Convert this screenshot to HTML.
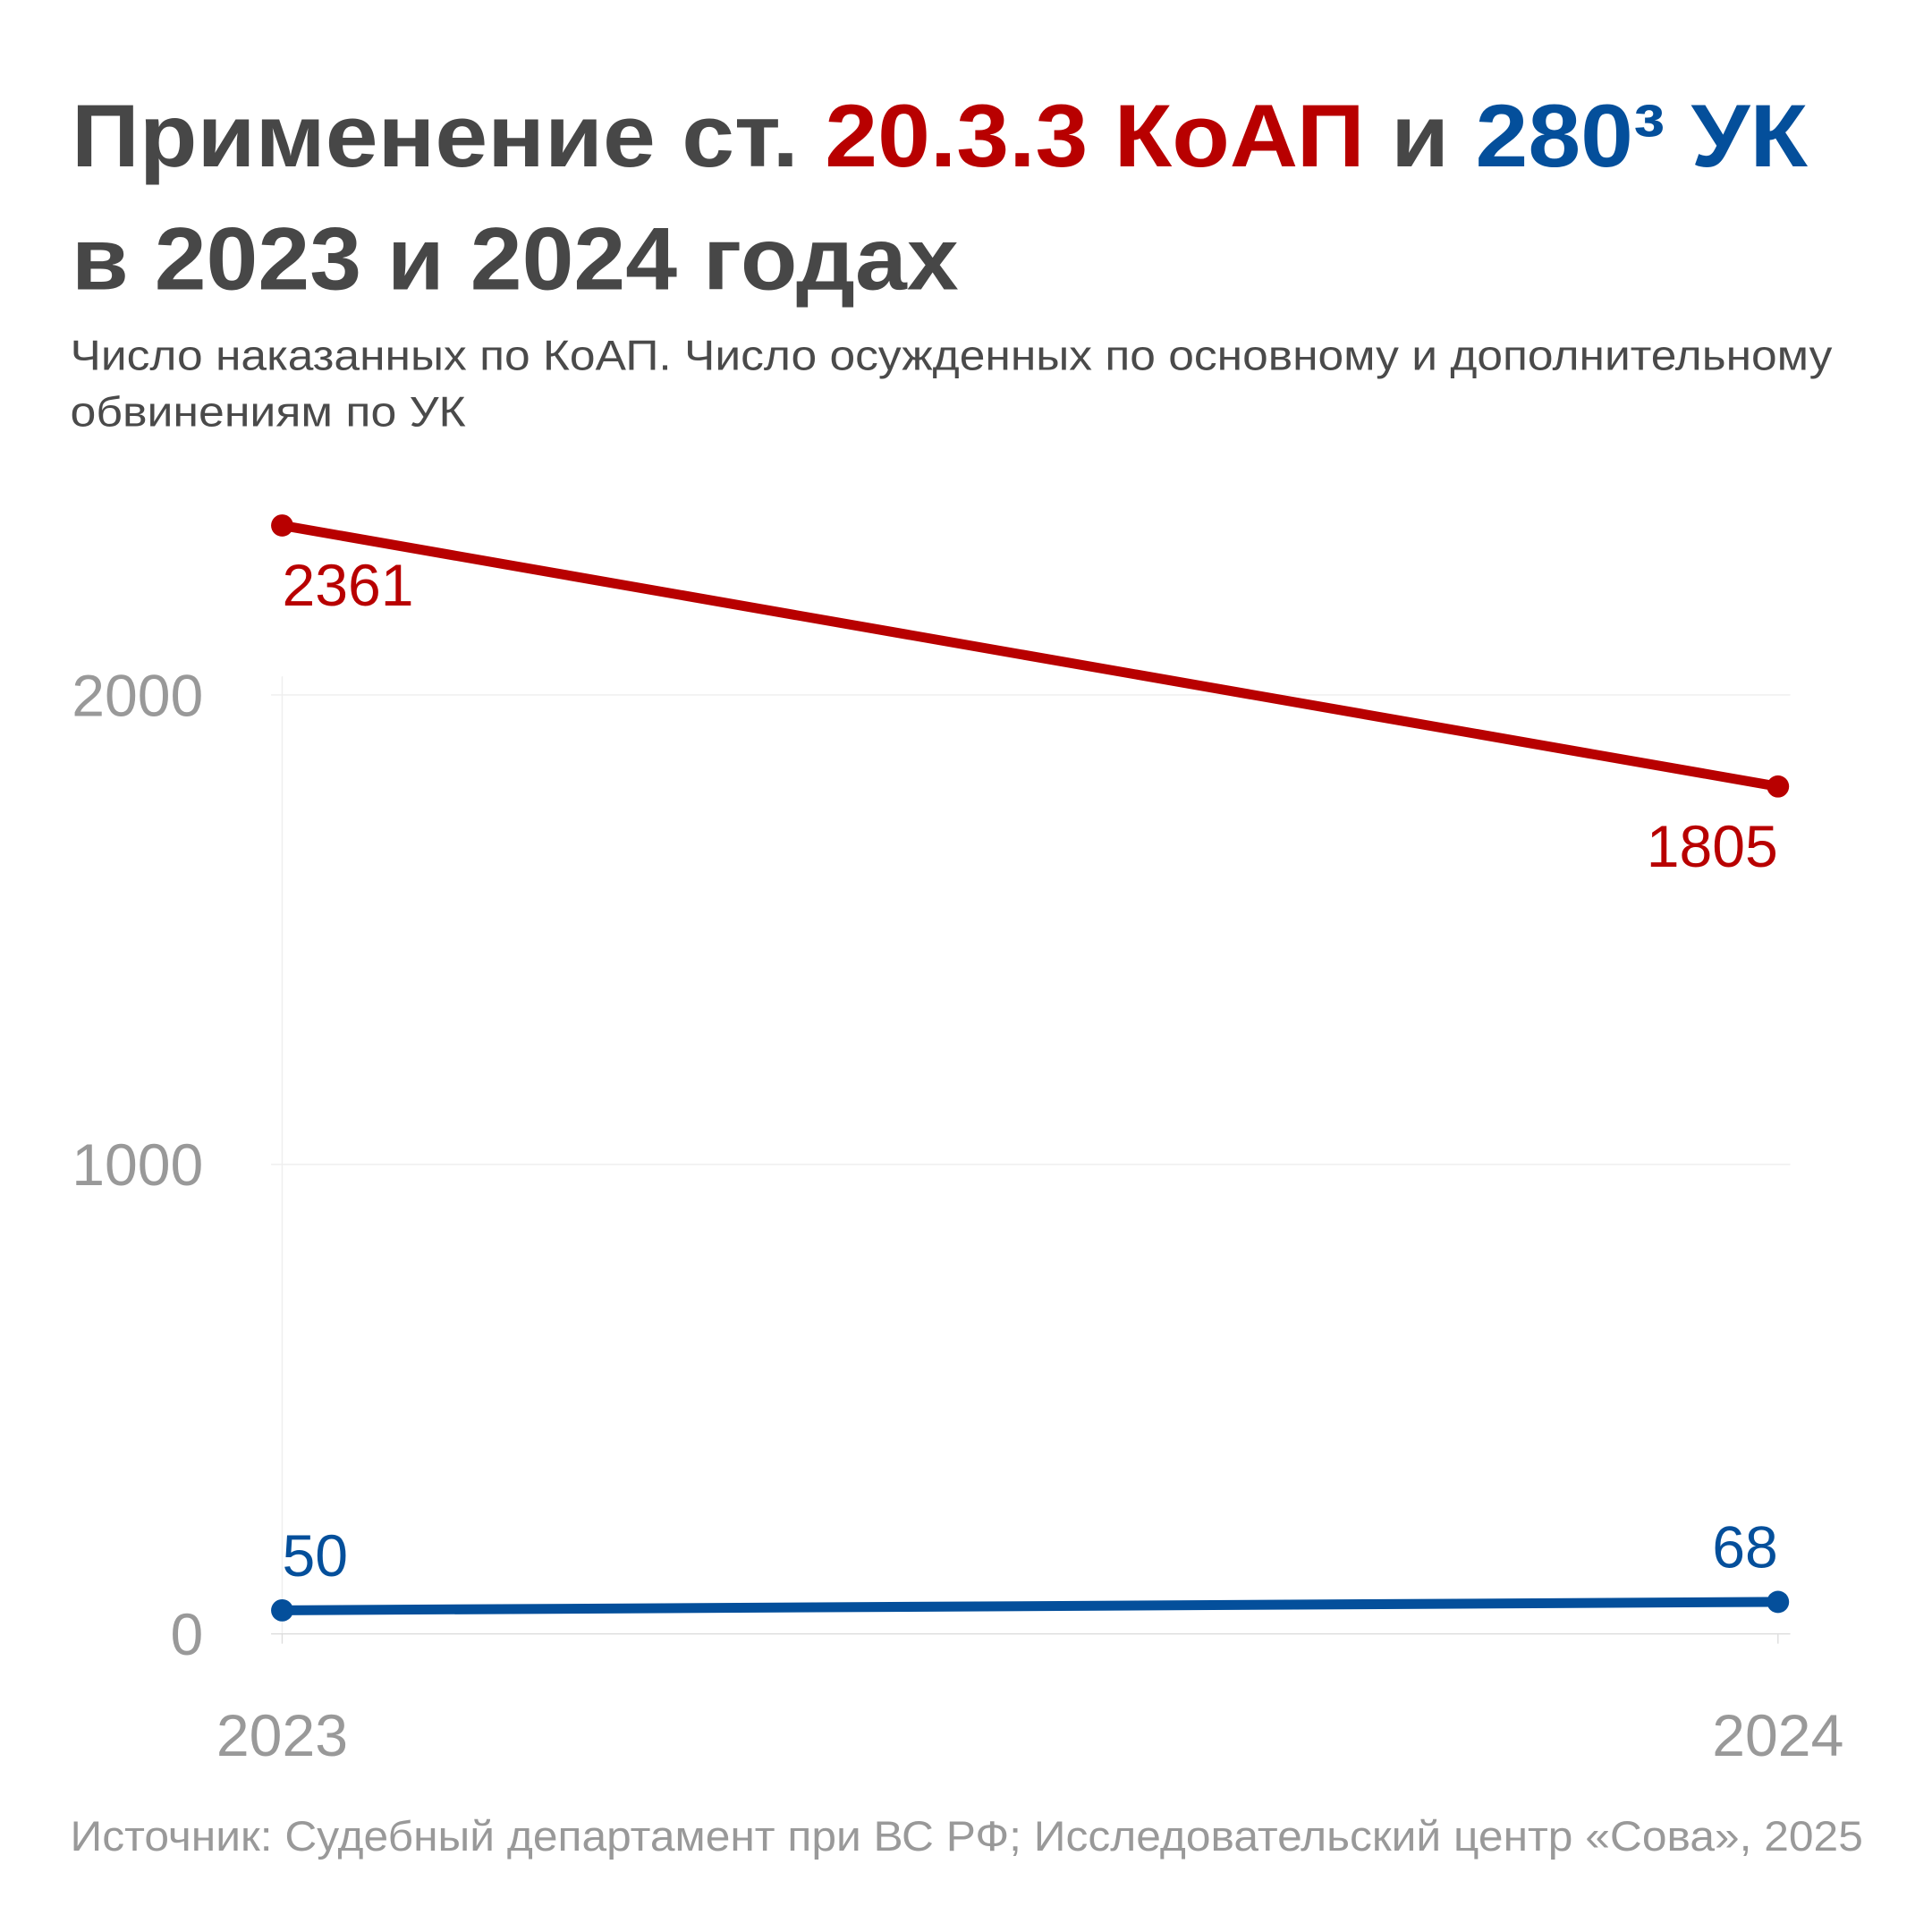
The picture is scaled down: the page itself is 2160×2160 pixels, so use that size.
<!DOCTYPE html>
<html><head><meta charset="utf-8"><style>
html,body{margin:0;padding:0;background:#fff}
svg{display:block}
text{font-family:"Liberation Sans",sans-serif}
</style></head><body>
<svg id="chart" width="2160" height="2160" viewBox="0 0 1568 1568" xmlns="http://www.w3.org/2000/svg">
<rect width="1568" height="1568" fill="#fff"/>
<text x="58" y="135" font-size="72" font-weight="bold" fill="#474747" textLength="1409" lengthAdjust="spacingAndGlyphs">Применение ст. <tspan fill="#b80000">20.3.3 КоАП</tspan> и <tspan fill="#044f9b">280³ УК</tspan></text>
<text x="58" y="235" font-size="72" font-weight="bold" fill="#474747" textLength="720" lengthAdjust="spacingAndGlyphs">в 2023 и 2024 годах</text>
<text x="57" y="300" font-size="34" fill="#4a4a4a" textLength="1430" lengthAdjust="spacingAndGlyphs">Число наказанных по КоАП. Число осужденных по основному и дополнительному</text>
<text x="57" y="346" font-size="34" fill="#4a4a4a" textLength="321" lengthAdjust="spacingAndGlyphs">обвинениям по УК</text>
<g id="grid"></g>
<g id="series"></g>
<text x="57" y="1502" font-size="34" fill="#999" textLength="1455" lengthAdjust="spacingAndGlyphs">Источник: Судебный департамент при ВС РФ; Исследовательский центр «Сова», 2025</text>
</svg>
<script>
const years = ["2023","2024"];
const koap = [2361, 1805];
const uk = [50, 68];
const yTicks = [0, 1000, 2000];

const NS="http://www.w3.org/2000/svg";
const x = i => 229 + i*(1443-229);
const y = v => 1326 - v*0.381;
function mk(tag, attrs, parent, txt){
  const e=document.createElementNS(NS,tag);
  for(const k in attrs) e.setAttribute(k,attrs[k]);
  if(txt!==undefined) e.textContent=txt;
  parent.appendChild(e); return e;
}
const grid=document.getElementById('grid');
const series=document.getElementById('series');
const gl=mk('line',{x1:229,x2:229,y1:y(yTicks[yTicks.length-1])-15,y2:1326,stroke:'#eee','stroke-width':1},grid);


yTicks.forEach(t=>{
  const l=mk('line',{x1:220,x2:1453,y1:y(t),y2:y(t),stroke:t===0?'#ddd':'#eee','stroke-width':1},grid);
  
  
  const tx=mk('text',{x:165,y:y(t)+17,'text-anchor':'end','font-size':48,fill:'#999'},grid,String(t));
  
  
});
years.forEach((yr,i)=>{
  const tk=mk('line',{x1:x(i),x2:x(i),y1:1326,y2:1334,stroke:'#ddd','stroke-width':1},grid);
  
  
  const tx=mk('text',{x:x(i),y:1425,'text-anchor':'middle','font-size':48,fill:'#999'},grid,yr);
  
  
});
function drawSeries(vals,color,name,labelOff){
  const pts=vals.map((v,i)=>x(i)+','+y(v)).join(' ');
  const pl=mk('polyline',{points:pts,fill:'none',stroke:color,'stroke-width':8,'stroke-linecap':'round'},series);
  
  
  vals.forEach((v,i)=>{
    const c=mk('circle',{cx:x(i),cy:y(v),r:9,fill:color},series);
    
    
    const t=mk('text',{x:x(i),y:y(v)+labelOff,'text-anchor':i===0?'start':'end','font-size':48,fill:color},series,String(v));
    
    
  });
}
drawSeries(koap,'#b80000','koap',65);
drawSeries(uk,'#044f9b','uk',-28);
</script>
</body></html>
